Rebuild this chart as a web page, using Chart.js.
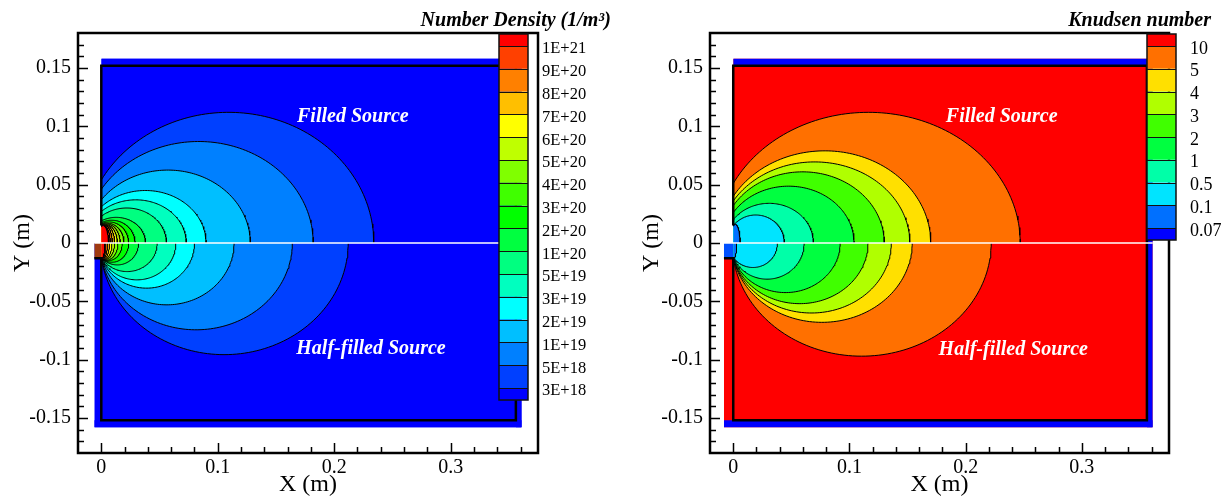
<!DOCTYPE html>
<html>
<head>
<meta charset="utf-8">
<script src="https://cdn.jsdelivr.net/npm/chart.js@4.4.1/dist/chart.umd.min.js"></script>
<style>
  html, body { margin: 0; padding: 0; background: #fff; }
  #wrap { position: relative; width: 1231px; height: 496px; }
  canvas { position: absolute; top: 0; }
</style>
</head>
<body>
<div id="wrap">
  <canvas id="density" width="615" height="496" style="left:0"></canvas>
  <canvas id="knudsen" width="616" height="496" style="left:615px"></canvas>
</div>
<script>
const SERIF = "'Liberation Serif', 'Times New Roman', serif";

// axis ticks (both panels)
const xTicks = [0, 0.1, 0.2, 0.3];
const xTickLabels = ['0', '0.1', '0.2', '0.3'];
const yTicks = [-0.15, -0.1, -0.05, 0, 0.05, 0.1, 0.15];
const yTickLabels = ['-0.15', '-0.1', '-0.05', '0', '0.05', '0.1', '0.15'];

// chamber walls (m)
const boxX = [0, 0, 0.356, 0.356, 0, 0];
const boxY = [0.015, 0.152, 0.152, -0.152, -0.152, -0.013];
const domainTop = 0.158;
const domainRight = 0.361;
const sourceBottom = -0.013;

// number density levels, colour bar from top to bottom
const densityLevels = ['1E+21', '9E+20', '8E+20', '7E+20', '6E+20', '5E+20', '4E+20', '3E+20',
  '2E+20', '1E+20', '5E+19', '3E+19', '2E+19', '1E+19', '5E+18', '3E+18'];
// contour extents (m), lowest level (3E+18) first
const nFilledReach  = [0.234, 0.182, 0.128, 0.090, 0.073, 0.056, 0.038, 0.029, 0.0235, 0.0195, 0.0163, 0.0138, 0.0115, 0.0095, 0.0077, 0.0063];
const nFilledHeight = [0.112, 0.087, 0.0625, 0.045, 0.037, 0.030, 0.022, 0.0195, 0.018, 0.017, 0.0165, 0.016, 0.0158, 0.0155, 0.0152, 0.015];
const nFilledWall   = [0.054, 0.046, 0.037, 0.031, 0.027, 0.023, 0.019, 0.0175, 0.0165, 0.016, 0.0155, 0.015, 0.0148, 0.0145, 0.0143, 0.014];
const nHalfReach    = [0.212, 0.164, 0.114, 0.080, 0.064, 0.048, 0.032, 0.0235, 0.018, 0.0143, 0.0114, 0.0092, 0.0071, 0.0054, 0.004, 0.003];
const nHalfDepth    = [0.0957, 0.0744, 0.053, 0.0387, 0.0316, 0.0245, 0.0188, 0.0165, 0.015, 0.0145, 0.014, 0.0138, 0.0136, 0.0134, 0.0132, 0.013];
const nHalfWall     = [0.0125, 0.0125, 0.0125, 0.0125, 0.0125, 0.0125, 0.0125, 0.0125, 0.0125, 0.0125, 0.0125, 0.0125, 0.0125, 0.0125, 0.0125, 0.0125];

// Knudsen number levels, colour bar from top to bottom
const knudsenLevels = ['10', '5', '4', '3', '2', '1', '0.5', '0.1', '0.07'];
// contour extents (m), outermost level (10) first
const kFilledReach  = [0.247, 0.170, 0.152, 0.130, 0.104, 0.069, 0.044, 0.006];
const kFilledHeight = [0.112, 0.079, 0.0695, 0.061, 0.0487, 0.034, 0.024, 0.016];
const kFilledWall   = [0.051, 0.040, 0.036, 0.032, 0.026, 0.020, 0.015, 0.0145];
const kHalfReach    = [0.222, 0.154, 0.136, 0.116, 0.092, 0.061, 0.038, 0.003];
const kHalfDepth    = [0.097, 0.068, 0.060, 0.052, 0.0425, 0.031, 0.021, 0.013];
const kHalfWall     = [0.0125, 0.0125, 0.0125, 0.0125, 0.0125, 0.0125, 0.0125, 0.0125];

const densityColors = ['#ff0000', '#ff4000', '#ff8000', '#ffbf00', '#ffff00', '#bfff00', '#80ff00', '#40ff00',
  '#00ff00', '#00ff40', '#00ff80', '#00ffbf', '#00ffff', '#00bfff', '#0080ff', '#0040ff', '#0000ff'];
const knudsenColors = ['#ff0000', '#ff7000', '#ffe000', '#b0ff00', '#40ff00', '#00ff40', '#00ffa8', '#00e4ff', '#0070ff', '#0000ff'];

// half ellipse on the x axis, cut by the wall at x = 0
function contour(reach, extent, wall, sign) {
  const k = Math.sqrt(1 - (wall / extent) ** 2);
  const a = reach / (1 + k);
  const cx = a * k;
  const t0 = Math.acos(-k);
  const pts = [];
  for (let i = 0; i <= 90; i++) {
    const t = t0 * (1 - i / 90);
    pts.push({ x: cx + a * Math.cos(t), y: sign * extent * Math.sin(t) });
  }
  return pts;
}

function band(x0, x1, yTop, yBase, color) {
  return {
    data: [{ x: x0, y: yTop }, { x: x1, y: yTop }],
    backgroundColor: color, borderColor: 'transparent', borderWidth: 0,
    fill: { value: yBase }
  };
}

function buildDatasets(p) {
  const ds = [];
  // chamber interior
  ds.push(band(0, domainRight, domainTop, 0, p.background));
  ds.push(band(p.lowerLeft, domainRight, 0, -domainTop, p.background));
  // outer wall layer
  ds.push(band(0, domainRight, domainTop, 0.152, '#0000ff'));
  ds.push(band(p.lowerLeft, domainRight, -0.152, -domainTop, '#0000ff'));
  ds.push(band(0.356, domainRight, domainTop, -domainTop, '#0000ff'));
  // contours, outermost first
  p.upper.reach.forEach((r, i) => {
    ds.push({
      data: contour(r, p.upper.extent[i], p.upper.wall[i], 1),
      backgroundColor: p.fillFor(i), borderColor: '#000', borderWidth: 1, fill: { value: 0 }
    });
  });
  p.lower.reach.forEach((r, i) => {
    ds.push({
      data: contour(r, p.lower.extent[i], p.lower.wall[i], -1),
      backgroundColor: p.fillFor(i), borderColor: '#000', borderWidth: 1, fill: { value: 0 }
    });
  });
  // source opening
  ds.push(band(p.lowerLeft, 0, 0, sourceBottom, p.sourceColor));
  // walls
  ds.push({
    data: boxX.map((x, i) => ({ x, y: boxY[i] })).concat([{ x: p.lowerLeft, y: sourceBottom }]),
    borderColor: '#000', borderWidth: 2.5, fill: false
  });
  // symmetry line between the two cases
  ds.push({
    data: [{ x: p.lowerLeft, y: 0 }, { x: domainRight, y: 0 }],
    borderColor: '#fff', borderWidth: 1.5, fill: false
  });
  ds.forEach((d, i) => { d.order = ds.length - i; d.pointRadius = 0; d.tension = 0; });
  return ds;
}

function decor(p) {
  return {
    id: 'decor',
    afterDatasetsDraw(chart) {
      const { ctx, chartArea: ca, scales: { x, y } } = chart;
      ctx.save();
      // inward tick marks
      ctx.strokeStyle = '#000';
      ctx.lineWidth = 1.5;
      ctx.beginPath();
      for (let v = -17; v <= 17; v++) {
        const py = Math.round(y.getPixelForValue(v / 100)) + 0.5;
        ctx.moveTo(ca.left, py);
        ctx.lineTo(ca.left + (v % 5 === 0 ? 10 : 6), py);
      }
      for (let v = 0; v <= 18; v++) {
        const px = Math.round(x.getPixelForValue(v / 50)) + 0.5;
        ctx.moveTo(px, ca.bottom);
        ctx.lineTo(px, ca.bottom - (v % 5 === 0 ? 10 : 6));
      }
      ctx.stroke();
      ctx.lineWidth = 2.5;
      ctx.strokeRect(ca.left, ca.top, ca.right - ca.left, ca.bottom - ca.top);

      // case labels
      ctx.fillStyle = '#fff';
      ctx.font = 'italic bold 20px ' + SERIF;
      ctx.textAlign = 'center';
      ctx.textBaseline = 'middle';
      p.notes.forEach(n => ctx.fillText(n.text, x.getPixelForValue(n.x), y.getPixelForValue(n.y)));

      // colour bar
      const b = p.bar;
      const n = p.levels.length;
      const edges = [b.top];
      for (let i = 0; i < n; i++) edges.push(b.top + b.end + i * b.step);
      edges.push(edges[n] + b.end);
      p.colors.forEach((c, i) => {
        ctx.fillStyle = c;
        ctx.fillRect(b.x, edges[i], b.w, edges[i + 1] - edges[i]);
      });
      ctx.strokeStyle = '#111';
      ctx.lineWidth = 1;
      ctx.beginPath();
      for (let i = 1; i <= n; i++) {
        ctx.moveTo(b.x, Math.round(edges[i]) + 0.5);
        ctx.lineTo(b.x + b.w, Math.round(edges[i]) + 0.5);
      }
      ctx.stroke();
      ctx.lineWidth = 1.5;
      ctx.strokeRect(b.x, edges[0], b.w, edges[n + 1] - edges[0]);

      ctx.fillStyle = '#000';
      ctx.textAlign = 'left';
      ctx.font = b.labelSize + 'px ' + SERIF;
      p.levels.forEach((t, i) => ctx.fillText(t, b.labelX, edges[i + 1] + 3));

      ctx.textAlign = 'right';
      ctx.font = 'italic bold 20px ' + SERIF;
      ctx.fillText(p.title, b.titleRight, 21);
      ctx.restore();
    }
  };
}

function makeChart(id, p) {
  return new Chart(document.getElementById(id), {
    type: 'line',
    data: { datasets: buildDatasets(p) },
    options: {
      responsive: false,
      animation: false,
      devicePixelRatio: 1,
      layout: { padding: { top: 33, right: p.padRight, bottom: 0, left: 0 } },
      plugins: { legend: { display: false }, tooltip: { enabled: false } },
      scales: {
        x: {
          type: 'linear', min: -0.02, max: 0.375,
          grid: { display: false, drawTicks: false },
          border: { display: false },
          afterBuildTicks: s => { s.ticks = xTicks.map(v => ({ value: v })); },
          afterFit: s => { s.height = 43; },
          ticks: {
            callback: (v, i) => xTickLabels[i],
            color: '#000', padding: 3, maxRotation: 0, autoSkip: false,
            font: { family: SERIF, size: 20 }
          },
          title: {
            display: true, text: 'X (m)', color: '#000',
            font: { family: SERIF, size: 24, lineHeight: 1 },
            padding: { top: 0, bottom: -1 }
          }
        },
        y: {
          type: 'linear', min: -0.18, max: 0.18,
          grid: { display: false, drawTicks: false },
          border: { display: false },
          afterBuildTicks: s => { s.ticks = yTicks.map(v => ({ value: v })); },
          afterFit: s => { s.width = p.axisWidth; },
          ticks: {
            callback: (v, i) => yTickLabels[i],
            color: '#000', padding: 7, autoSkip: false,
            font: { family: SERIF, size: 20 }
          },
          title: {
            display: true, text: 'Y (m)', color: '#000',
            font: { family: SERIF, size: 24, lineHeight: 1 },
            padding: { top: p.yTitlePad, bottom: 0 }
          }
        }
      }
    },
    plugins: [decor(p)]
  });
}

makeChart('density', {
  background: '#0000ff',
  sourceColor: '#a03a10',
  lowerLeft: -0.006,
  upper: { reach: nFilledReach, extent: nFilledHeight, wall: nFilledWall },
  lower: { reach: nHalfReach, extent: nHalfDepth, wall: nHalfWall },
  fillFor: i => densityColors[densityColors.length - 2 - i],
  levels: densityLevels,
  colors: densityColors,
  title: 'Number Density (1/m³)',
  notes: [
    { text: 'Filled Source', x: 0.216, y: 0.108 },
    { text: 'Half-filled Source', x: 0.2316, y: -0.091 }
  ],
  bar: { x: 499, w: 29, top: 34, end: 12, step: 22.8, labelX: 542, labelSize: 16.5, titleRight: 611 },
  padRight: 77,
  axisWidth: 78,
  yTitlePad: 11
});

makeChart('knudsen', {
  background: '#ff0000',
  sourceColor: '#0050ff',
  lowerLeft: -0.008,
  upper: { reach: kFilledReach, extent: kFilledHeight, wall: kFilledWall },
  lower: { reach: kHalfReach, extent: kHalfDepth, wall: kHalfWall },
  fillFor: i => knudsenColors[i + 1],
  levels: knudsenLevels,
  colors: knudsenColors,
  title: 'Knudsen number',
  notes: [
    { text: 'Filled Source', x: 0.231, y: 0.108 },
    { text: 'Half-filled Source', x: 0.241, y: -0.0915 }
  ],
  bar: { x: 532, w: 29, top: 34, end: 12, step: 22.75, labelX: 575, labelSize: 18, titleRight: 596 },
  padRight: 62,
  axisWidth: 95,
  yTitlePad: 25
});
</script>
</body>
</html>
